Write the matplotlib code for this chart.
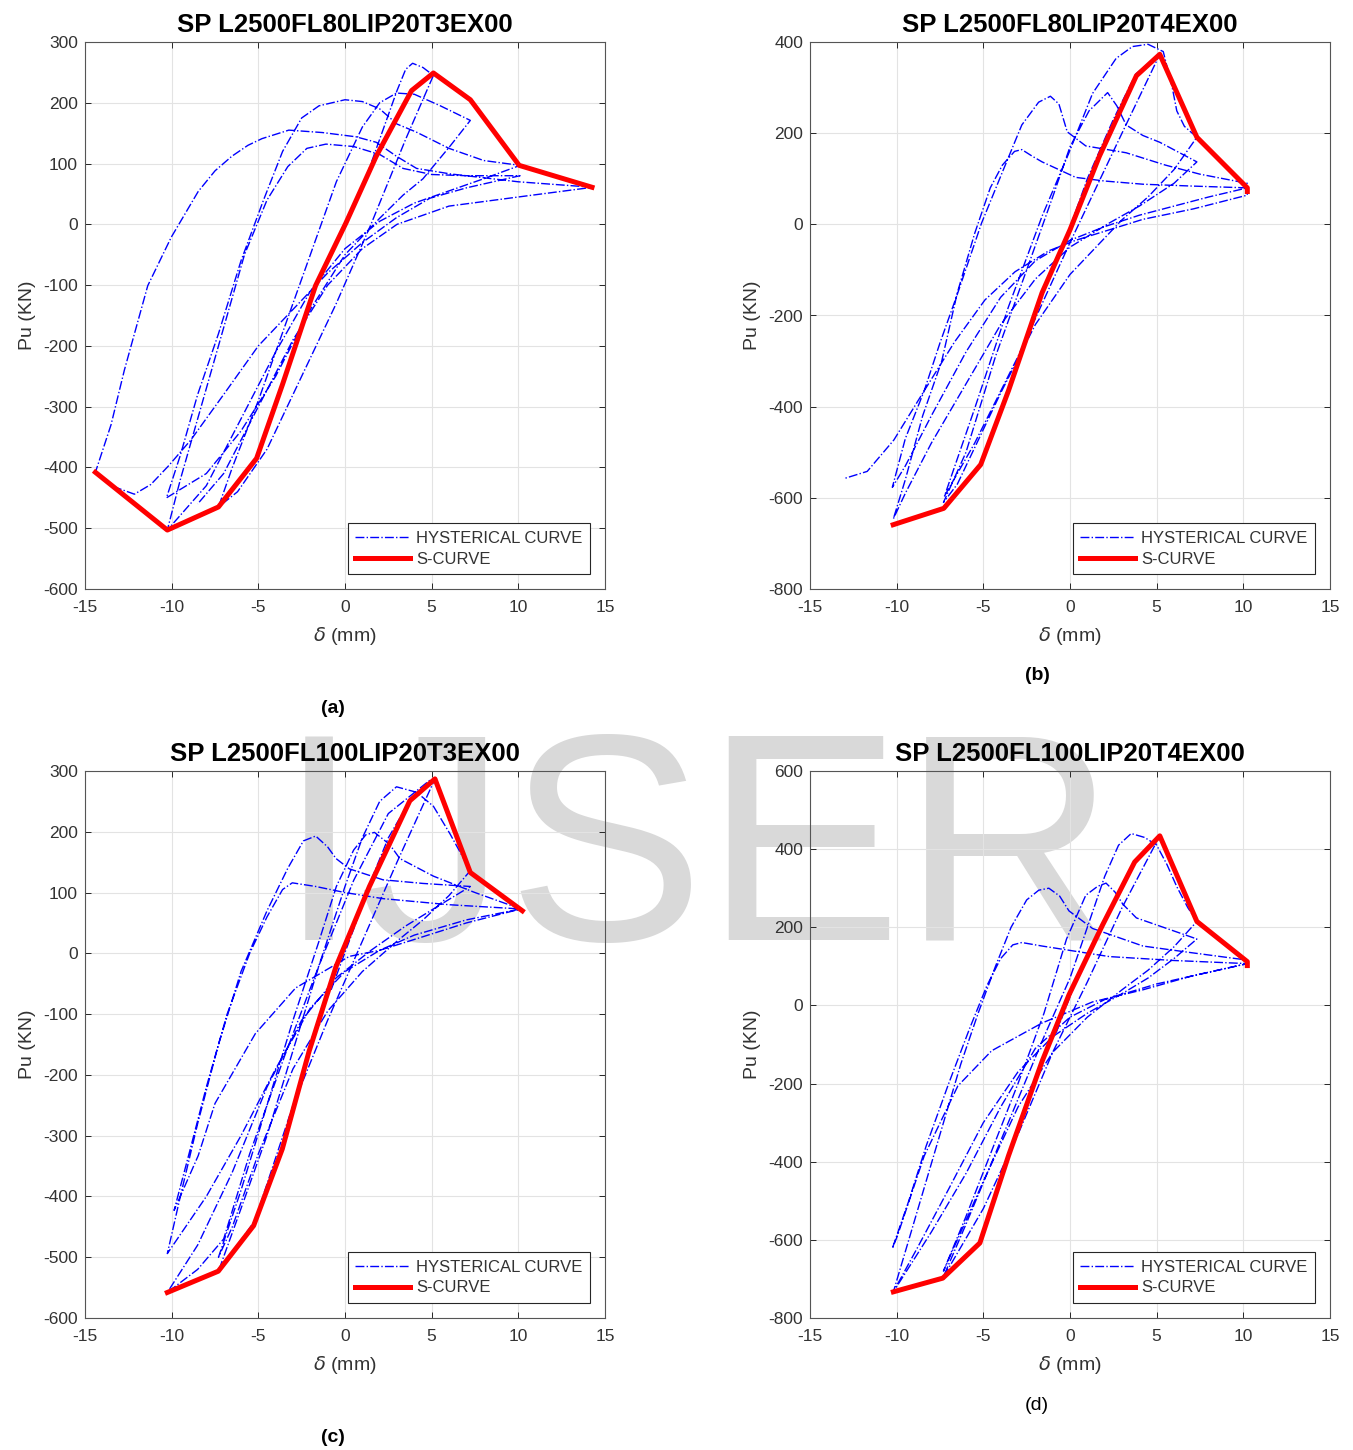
import matplotlib

matplotlib.use("Agg")

import matplotlib.pyplot as plt

plt.rcParams["font.family"] = ["Liberation Sans", "DejaVu Sans"]
plt.rcParams["axes.unicode_minus"] = False

# ---- panel (a) ----
a_title = "SP L2500FL80LIP20T3EX00"
a_s_x = [-14.4, -10.25, -7.3, -5.1, -3.6, -1.7, 0.05, 1.8, 3.84, 5.1, 7.23, 10.05, 14.25]
a_s_y = [-408, -503, -465, -385, -263, -101, 2, 112, 220, 249, 205, 97, 61]
a_h_x = [-0.5, 1, 2, 3, 3.5, 3.9, 4.5, 5.1,
         3.5, 1.5, -0.5, -2.5, -4.5, -6.2, -7.3,
         -6.5, -5, -3.5, -2, -0.5, 1, 2, 2.97, 4, 5.5, 7.23,
         6.07, 4.5, 3.35, 2, 0, -2, -4, -6, -8, -10.3,
         -9.5, -8.5, -7.3, -6, -4.7, -3.6, -2.5, -1.5, 0, 1, 2, 3, 4.1, 6, 8, 10.1,
         8, 6, 4, 2, 0, -2, -4, -6, -8, -10.25,
         -9.5, -8.3, -7, -5.8, -4.5, -3.3, -2.2, -1.1, 0.5, 2, 3.35, 5, 7, 10.1,
         7, 4.9, 2.97, 1, -1, -3, -5, -7, -8.9, -10.2, -11.2, -12.15, -13.5, -14.4,
         -13.5, -12.73, -11.38, -10.02, -8.47, -7.5, -6.53, -5.6, -4.79, -3.24, -1.3, 0.64, 1.8, 2.97, 4.13, 6.07, 10, 14.3,
         10, 6, 3, 1, -1, -3, -5, -7, -8.5]
a_h_y = [-30, 60, 140, 220, 255, 265, 258, 245,
         140, 0, -130, -250, -370, -440, -465,
         -400, -290, -170, -50, 70, 160, 200, 216, 214, 195, 171,
         129, 75, 48, 10, -50, -140, -250, -340, -410, -450,
         -380, -280, -180, -60, 40, 120, 175, 195, 205, 202, 190, 165, 152, 125, 105, 97,
         75, 55, 35, 5, -40, -110, -210, -320, -430, -503,
         -420, -300, -170, -50, 40, 95, 125, 132, 128, 115, 92, 82, 80, 80,
         60, 43, 11, -30, -80, -140, -200, -280, -355, -398, -428, -444, -430, -408,
         -330, -240, -101, -21, 54, 88, 112, 130, 141, 155, 151, 144, 135, 112, 92, 83, 70, 61,
         45, 30, 0, -40, -100, -190, -300, -410, -460]

# ---- panel (b) ----
b_title = "SP L2500FL80LIP20T4EX00"
b_s_x = [-10.2, -7.28, -5.15, -3.55, -1.61, 0, 1.69, 3.83, 5.18, 7.32, 10.23, 10.23]
b_s_y = [-659, -623, -527, -365, -150, -12, 149, 326, 373, 191, 80, 72]
b_h_x = [-0.5, 1, 2.5, 3.8, 5.18,
         3, 0, -3, -5.5, -7.24,
         -5.5, -3.55, -1.61, -0.06, 1.3, 2.66, 3.6, 4.5, 5.38, 5.9, 6.16, 6.6, 7.32,
         6, 4.5, 3, 1.5, 0, -2, -4, -5.5, -6.5, -7.3,
         -6, -4.3, -2.5, -1, 0, 1.1, 2.17, 2.7, 3.24, 4.2, 5.18, 7.32,
         6, 4, 2.27, 0, -2, -4, -6, -8, -9.5, -10.19,
         -9.5, -8.5, -7.4, -6.5, -5.5, -4.6, -3.9, -3.2, -2.78, -2.2, -1.61, 0.33, 2, 4.21, 7, 10.23,
         8, 6, 4, 2, 0, -2, -4, -6, -8, -9.5, -10.25,
         -9.5, -8.41, -7.5, -6.47, -5.1, -3.94, -2.78, -1.81, -1.13, -0.64, -0.16, 0.91, 3.24, 5.5, 7.5, 10.23,
         10.23, 7.13, 4.21, 2.27, 0.33, -1.22, -3.17, -4.91, -6.66, -8.41, -10.16, -11.7, -12.97]
b_h_y = [-60, 100, 230, 330, 373,
         200, -40, -290, -480, -596,
         -404, -181, 18, 157, 287, 364, 390, 395, 379, 300, 249, 215, 191,
         120, 60, 10, -50, -110, -220, -370, -490, -570, -610,
         -500, -290, -100, 60, 170, 249, 289, 260, 218, 195, 180, 137,
         90, 40, 3, -50, -120, -220, -350, -480, -590, -646,
         -560, -420, -300, -150, -20, 80, 130, 160, 164, 150, 137, 103, 95, 88, 84, 80,
         60, 40, 20, -5, -35, -80, -160, -280, -420, -530, -577,
         -470, -365, -260, -150, 3, 111, 218, 268, 281, 264, 203, 172, 157, 130, 110, 90,
         64, 34, 11, -12, -35, -58, -104, -166, -258, -365, -473, -542, -557]

# ---- panel (c) ----
c_title = "SP L2500FL100LIP20T3EX00"
c_s_x = [-10.25, -7.31, -5.27, -3.62, -2.07, -0.52, 1.41, 3.74, 5.19, 7.23, 10.23]
c_s_y = [-558, -523, -448, -322, -161, -22, 110, 251, 287, 133, 70]
c_h_x = [-0.8, 0.5, 1.5, 2.5, 3.74, 5.19,
         3, 1, -1, -3, -5.2, -7.3,
         -6, -4.5, -3, -1.5, 0, 1, 2, 2.97, 4.13, 5.1, 6.07, 7.23,
         6, 4.5, 3, 1, -1, -3, -5, -6.5, -7.3,
         -6, -4.5, -3, -1.5, -0.5, 0.5, 1.2, 1.7, 2.58, 3.16, 5.1, 7.5, 10.14,
         7, 4.13, 2, 0.25, -2.85, -5.17, -7.5, -8.47, -9.86,
         -9, -8, -6.8, -5.5, -4.5, -3.6, -3.04, -1.69, 0, 2.19, 6, 10.14,
         7, 4, 2, 0, -2, -4, -6, -8, -10.25,
         -9.5, -8.5, -7.3, -6, -4.5, -3.3, -2.4, -1.69, -1, -0.52, 0.25, 2.19, 4.5, 7.23,
         5.5, 3.5, 1.5, -0.5, -2.5, -4.5, -6.5, -8.5, -10.25,
         -8.5, -7, -5.5, -3.5, -1.5, 0.5, 2.5, 4.9]
c_h_y = [-60, 40, 120, 190, 251, 287,
         150, 20, -110, -250, -440, -523,
         -420, -300, -160, -20, 110, 190, 250, 274, 265, 242, 196, 136,
         95, 55, 20, -30, -95, -190, -330, -450, -500,
         -390, -250, -110, 20, 110, 170, 195, 199, 179, 156, 127, 100, 73,
         50, 24, 5, -5, -57, -132, -247, -333, -423,
         -330, -220, -100, 0, 60, 105, 116, 110, 100, 90, 80, 73,
         55, 30, 5, -30, -90, -190, -300, -400, -494,
         -400, -280, -150, -30, 70, 140, 185, 193, 175, 156, 139, 121, 115, 110,
         80, 45, 5, -40, -110, -220, -360, -480, -558,
         -520, -470, -330, -170, -20, 120, 230, 285]

# ---- panel (d) ----
d_title = "SP L2500FL100LIP20T4EX00"
d_s_x = [-10.19, -7.34, -5.2, -3.55, -1.61, -0.06, 1.88, 3.73, 5.18, 7.32, 10.23, 10.23]
d_s_y = [-733, -698, -608, -385, -143, 27, 206, 367, 434, 215, 112, 102]
d_h_x = [-0.8, 0.5, 1.88, 3, 3.73, 5.18,
         3, 1, -1, -3, -5, -7.34,
         -6, -4.5, -3, -1.5, 0, 1, 2, 2.8, 3.53, 4.3, 4.99, 5.6, 6.16, 6.8, 7.32,
         6, 4.5, 3, 1, -1, -3, -5, -6.5, -7.3,
         -6, -4.5, -3, -1.5, -0.2, 0.91, 1.6, 2.08, 2.6, 3.05, 3.83, 6.16, 7.32,
         6, 4.5, 3, 1, -1, -3, -5, -7, -8.8, -10.19,
         -9.3, -8.3, -7.3, -6.3, -5.3, -4.3, -3.4, -2.5, -1.8, -1.22, -0.6, -0.06, 1.3, 4.21, 7, 10.23,
         10.23, 7, 4.21, 1.3, -1.61, -4.52, -6.47, -8.41, -9.96, -10.25,
         -9.3, -8.3, -7, -5.8, -4.8, -4, -3.3, -2.78, -1.61, 2.27, 6, 10.23,
         8, 5, 2, 0, -2, -4, -6, -8, -10.19]
d_h_y = [-70, 80, 206, 310, 367, 434,
         250, 60, -120, -330, -520, -698,
         -560, -400, -240, -80, 70, 200, 330, 410, 440, 430, 411, 360, 304, 250, 215,
         150, 90, 40, -30, -120, -260, -450, -600, -680,
         -540, -370, -200, -20, 170, 282, 305, 313, 290, 259, 224, 188, 170,
         120, 70, 30, -20, -80, -170, -300, -470, -620, -733,
         -600, -450, -300, -150, -20, 100, 200, 270, 295, 300, 280, 242, 197, 152, 135, 116,
         107, 75, 40, 9, -45, -116, -206, -385, -590, -622,
         -500, -360, -200, -60, 50, 120, 155, 161, 152, 125, 115, 107,
         85, 55, 15, -30, -110, -260, -430, -580, -733]

PANELS = [
    (a_title, a_h_x, a_h_y, a_s_x, a_s_y, (-600, 300, 100), [85, 42, 605, 589], "(a)", (333, 708), "bold"),
    (b_title, b_h_x, b_h_y, b_s_x, b_s_y, (-800, 400, 200), [810, 42, 1330, 589], "(b)", (1037, 676), "bold"),
    (c_title, c_h_x, c_h_y, c_s_x, c_s_y, (-600, 300, 100), [85, 771, 605, 1318], "(c)", (333, 1438), "bold"),
    (d_title, d_h_x, d_h_y, d_s_x, d_s_y, (-800, 600, 200), [810, 771, 1330, 1318], "(d)", (1037, 1405), "normal"),
]

W, H = 1353, 1450
fig = plt.figure(figsize=(W / 100, H / 100), dpi=100)

# watermark behind the axes
fig.text(697 / W, 1 - 940 / H, "IJSER", fontsize=213, color="#d9d9d9",
         ha="center", va="baseline", zorder=-1)

for title, hx, hy, sx, sy, (ymin, ymax, ystep), (l, t, r, b), cap, cap_xy, cap_w in PANELS:
    ax = fig.add_axes([l / W, 1 - b / H, (r - l) / W, (b - t) / H])
    ax.set_facecolor("none")
    ax.plot(hx, hy, color="#0000ff", linestyle="-.", linewidth=1.0, label="HYSTERICAL CURVE")
    ax.plot(sx, sy, color="#ff0000", linewidth=3.6, label="S-CURVE")
    ax.set_xlim(-15, 15)
    ax.set_ylim(ymin, ymax)
    ax.set_xticks(range(-15, 16, 5))
    ax.set_yticks(range(ymin, ymax + 1, ystep))
    ax.grid(True, color="#e3e3e3", linewidth=0.8)
    ax.set_axisbelow(True)
    ax.tick_params(direction="in", top=True, right=True, length=4, width=0.7,
                   labelsize=12.5, colors="#262626", labelcolor="#333333")
    ax.tick_params(axis="x", pad=8)
    ax.tick_params(axis="y", pad=5)
    for sp in ax.spines.values():
        sp.set_color("#555555")
        sp.set_linewidth(0.8)
    ax.set_title(title, fontsize=18.5, fontweight="bold", pad=7)
    ax.set_xlabel(r"$\delta$ (mm)", fontsize=14, color="#333333", labelpad=7)
    ax.set_ylabel("Pu (KN)", fontsize=14, color="#333333", labelpad=5)
    leg = ax.legend(loc="lower right", fontsize=12, fancybox=False, framealpha=1,
                    edgecolor="#262626", handlelength=3.3, handletextpad=0.35,
                    borderpad=0.45, labelspacing=0.35, borderaxespad=0.9)
    leg.get_frame().set_linewidth(0.8)
    for txt in leg.get_texts():
        txt.set_color("#333333")
    fig.text(cap_xy[0] / W, 1 - cap_xy[1] / H, cap, fontsize=14, fontweight=cap_w,
             ha="center", va="center")

fig.savefig("out.png", dpi=100)
